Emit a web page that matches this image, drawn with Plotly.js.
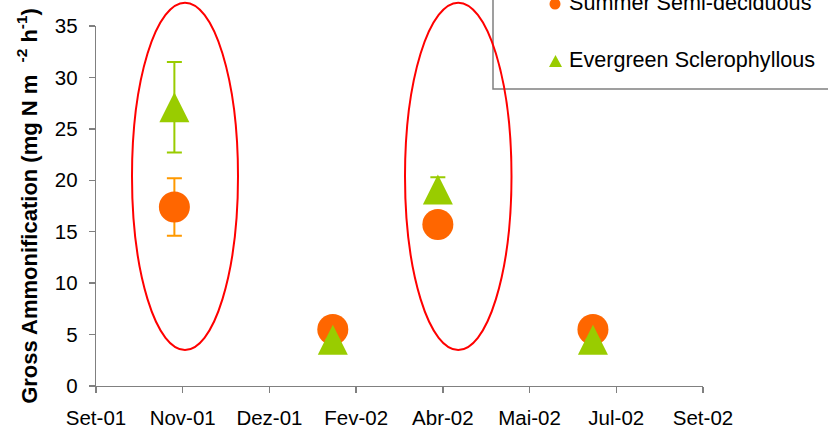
<!DOCTYPE html>
<html>
<head>
<meta charset="utf-8">
<script src="https://cdn.plot.ly/plotly-3.0.1.min.js"></script>
<style>html,body{margin:0;padding:0;background:#fff;}#chart{width:828px;height:429px;}</style>
</head>
<body>
<div id="chart"></div>
<script>
// ---- data ----
var sampleDates = ['2001-10-28', '2002-01-31', '2002-04-04', '2002-07-06'];
var semiDeciduous = [17.4, 5.5, 15.7, 5.5];
var semiDeciduousErr = [2.8, 0.5, 0.8, 0.5];
var sclerophyllous = [27.1, 4.5, 19.1, 4.5];
var sclerophyllousErr = [4.4, 0, 1.2, 0];
var seriesNames = ['Summer Semi-deciduous', 'Evergreen Sclerophyllous'];
var tickDates = ['2001-09-11', '2001-11-02', '2001-12-24', '2002-02-14', '2002-04-07', '2002-05-29', '2002-07-20', '2002-09-10'];
var tickLabels = ['Set-01', 'Nov-01', 'Dez-01', 'Fev-02', 'Abr-02', 'Mai-02', 'Jul-02', 'Set-02'];
var yTicks = [0, 5, 10, 15, 20, 25, 30, 35];

var FONT = 'Liberation Sans, Arial, sans-serif';
var ORANGE = '#FF6600', ORANGE_ERR = '#FF9900', GREEN = '#99CC00';

var traces = [
  {
    type: 'scatter', mode: 'markers', name: seriesNames[0], showlegend: false,
    x: sampleDates, y: semiDeciduous,
    marker: {symbol: 'circle', size: 31, color: ORANGE, line: {width: 0}},
    error_y: {type: 'data', array: semiDeciduousErr, visible: true, color: ORANGE_ERR, thickness: 2, width: 7.5}
  },
  {
    type: 'scatter', mode: 'markers', name: seriesNames[1], showlegend: false,
    x: sampleDates, y: sclerophyllous,
    marker: {symbol: 'arrow-down', angle: 180, standoff: 15, size: 30, color: GREEN, line: {width: 0}},
    error_y: {type: 'data', array: sclerophyllousErr, visible: true, color: GREEN, thickness: 2, width: 7.5}
  }
];

// plot area in px: x 96..703, y 26..386
function px2x(p) { return (p - 96) / 607; }
function px2y(p) { return (386 - p) / 360; }

var shapes = [
  // ellipses
  {type: 'circle', xref: 'paper', yref: 'paper', x0: px2x(132), x1: px2x(238), y0: px2y(350), y1: px2y(2.7),
   line: {color: '#FF0000', width: 2}, fillcolor: 'rgba(0,0,0,0)'},
  {type: 'circle', xref: 'paper', yref: 'paper', x0: px2x(405), x1: px2x(511.5), y0: px2y(350), y1: px2y(2.7),
   line: {color: '#FF0000', width: 2}, fillcolor: 'rgba(0,0,0,0)'},
  // legend box
  {type: 'rect', xref: 'paper', yref: 'paper', x0: px2x(493), x1: px2x(900), y0: px2y(89), y1: px2y(-40),
   line: {color: '#808080', width: 1.5}, fillcolor: 'rgba(0,0,0,0)', layer: 'below'},
  // legend symbols
  {type: 'circle', xref: 'paper', yref: 'paper', xsizemode: 'pixel', ysizemode: 'pixel',
   xanchor: px2x(555), yanchor: px2y(4), x0: -5.5, x1: 5.5, y0: -5.5, y1: 5.5,
   line: {width: 0}, fillcolor: ORANGE},
  {type: 'path', xref: 'paper', yref: 'paper', xsizemode: 'pixel', ysizemode: 'pixel',
   xanchor: px2x(555.5), yanchor: px2y(61), path: 'M -6.5 -6 L 6.5 -6 L 0 6 Z',
   line: {width: 0}, fillcolor: GREEN}
];

var annotations = [
  {xref: 'paper', yref: 'paper', x: px2x(567), y: px2y(2), xanchor: 'left', yanchor: 'middle',
   text: seriesNames[0], showarrow: false, font: {family: FONT, size: 21.6, color: '#000'}},
  {xref: 'paper', yref: 'paper', x: px2x(567), y: px2y(59), xanchor: 'left', yanchor: 'middle',
   text: seriesNames[1], showarrow: false, font: {family: FONT, size: 21.6, color: '#000'}}
];

var layout = {
  width: 828, height: 429,
  margin: {l: 96, r: 125, t: 26, b: 43, autoexpand: false},
  paper_bgcolor: '#fff', plot_bgcolor: '#fff',
  showlegend: false,
  font: {family: FONT, color: '#000'},
  xaxis: {
    type: 'date', range: [tickDates[0], tickDates[tickDates.length - 1]],
    tickmode: 'array', tickvals: tickDates, ticktext: tickLabels,
    showline: true, linecolor: '#808080', linewidth: 1.3, mirror: false,
    ticks: 'outside', ticklen: 6, tickcolor: '#808080', tickwidth: 1.3,
    tickfont: {family: FONT, size: 20.5, color: '#000'},
    ticklabelstandoff: 7,
    showgrid: false, zeroline: false, fixedrange: true
  },
  yaxis: {
    range: [0, 35], tickmode: 'array', tickvals: yTicks,
    showline: true, linecolor: '#808080', linewidth: 1.3,
    ticks: 'outside', ticklen: 6, tickcolor: '#808080', tickwidth: 1.3,
    tickfont: {family: FONT, size: 20.5, color: '#000'},
    ticklabelstandoff: 7,
    showgrid: false, zeroline: false, fixedrange: true,
    title: {text: '<b>Gross Ammonification (mg N m  <sup>-2</sup> h<sup>-1</sup>)</b>',
            font: {family: FONT, size: 22, color: '#000'}, standoff: 11}
  },
  shapes: shapes,
  annotations: annotations
};

Plotly.newPlot('chart', traces, layout, {staticPlot: true, displayModeBar: false});
</script>
</body>
</html>
